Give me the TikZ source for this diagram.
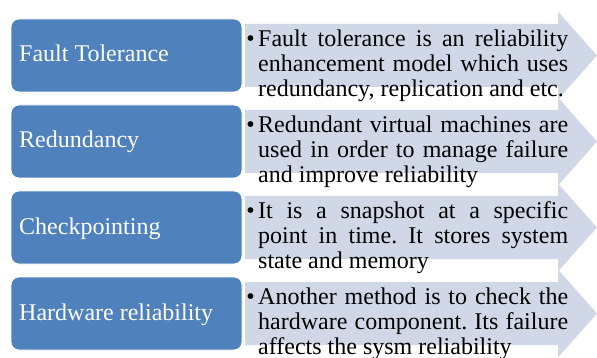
\documentclass[tikz,border=0pt]{standalone}
\usepackage{fontspec}
\setmainfont{Liberation Serif}
\frenchspacing
\definecolor{boxblue}{HTML}{4F81BD}
\definecolor{arrowfill}{HTML}{D0D8E8}
\tikzset{
  catbox/.style={fill=boxblue, draw=white, line width=0.8pt, rounded corners=8pt},
  blockarrow/.style={fill=arrowfill, draw=none},
  cattext/.style={anchor=base west, inner sep=0pt, text=white, font=\fontsize{24}{26}\selectfont},
  bullettext/.style={anchor=base west, inner sep=0pt, text=black, font=\fontsize{24}{24.7}\selectfont},
  bulletmark/.style={anchor=base, inner sep=0pt, font=\fontsize{24}{24.7}\selectfont}
}
\newcommand{\descbox}[1]{\parbox[t]{310pt}{\frenchspacing\hyphenpenalty=10000\exhyphenpenalty=10000 #1}}
\begin{document}
\begin{tikzpicture}[x=1pt,y=-1pt]
\useasboundingbox (0,0) rectangle (597,358);
\foreach \c in {55.5,141.5,227.5,313.5}{
  \fill[blockarrow] (245,\c-31.5) -- (558,\c-31.5) -- (558,\c-44) -- (597,\c) -- (558,\c+44) -- (558,\c+31.5) -- (245,\c+31.5) -- cycle;
}
\foreach \c in {55.5,141.5,227.5,313.5}{
  \draw[catbox] (11,\c-36.5) rectangle (242,\c+36.5);
}
\node[cattext] (c1) at (19,62) {Fault Tolerance};
\node[cattext] (c2) at (19,148) {Redundancy};
\node[cattext] (c3) at (19,234) {Checkpointing};
\node[cattext] (c4) at (19,320) {Hardware reliability};

\node[bulletmark] (b1) at (250.5,46.7) {\textbullet};
\node[bulletmark] (b2) at (250.5,132.7) {\textbullet};
\node[bulletmark] (b3) at (250.5,218.7) {\textbullet};
\node[bulletmark] (b4) at (250.5,304.7) {\textbullet};

\node[bullettext] (d1) at (258,46.7) {\descbox{Fault tolerance is an reliability\linebreak enhancement model which uses\linebreak redundancy, replication and etc.}};
\node[bullettext] (d2) at (258,132.7) {\descbox{Redundant virtual machines are\linebreak used in order to manage failure\linebreak and improve reliability}};
\node[bullettext] (d3) at (258,218.7) {\descbox{It is a snapshot at a specific\linebreak point in time. It stores system\linebreak state and memory}};
\node[bullettext] (d4) at (258,304.7) {\descbox{Another method is to check the\linebreak hardware component. Its failure\linebreak affects the sysm reliability}};
\end{tikzpicture}
\end{document}
